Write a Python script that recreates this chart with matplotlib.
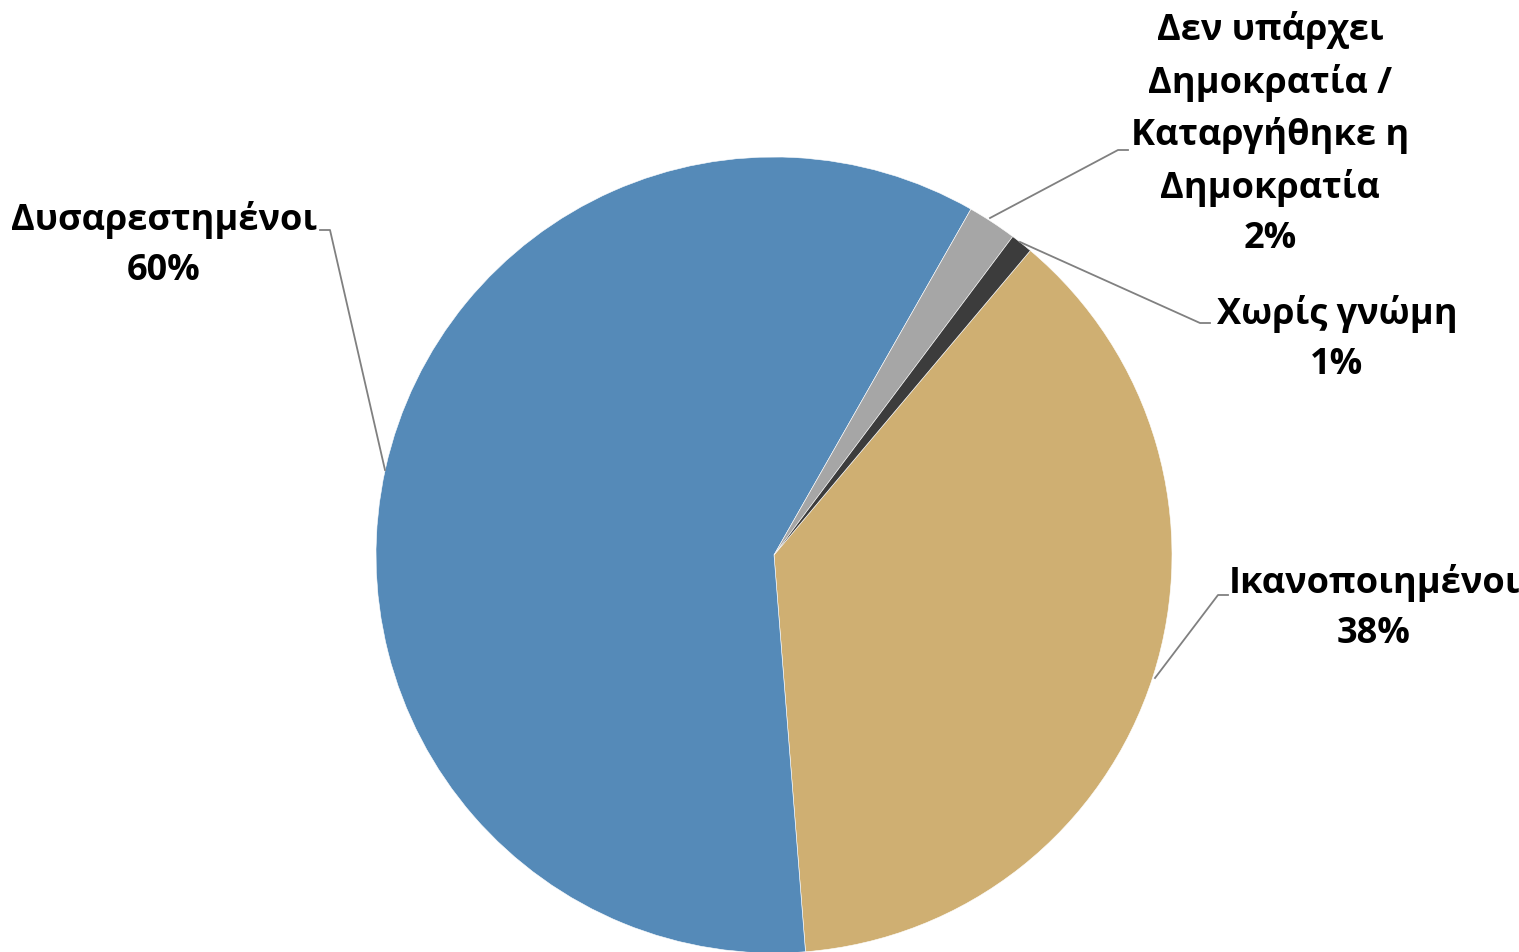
import matplotlib.pyplot as plt

# data (percent, clockwise from the tan slice)
labels = ['Ικανοποιημένοι', 'Δυσαρεστημένοι',
          'Δεν υπάρχει\nΔημοκρατία /\nΚαταργήθηκε η\nΔημοκρατία', 'Χωρίς γνώμη']
values = [37.6, 59.5, 2.0, 0.9]
shown = ['38%', '60%', '2%', '1%']
colors = ['#CFAF72', '#558AB8', '#A6A6A6', '#3C3C3C']

W, H = 1519, 952
fig = plt.figure(figsize=(W / 100, H / 100), dpi=100)
ax = fig.add_axes([0, 0, 1, 1])

cx, cy, r = 774, H - 555, 398
ax.pie(values, colors=colors, startangle=49.9, counterclock=False,
       center=(cx, cy), radius=r, frame=True,
       wedgeprops=dict(linewidth=0.4, edgecolor='white'))
ax.set_xlim(0, W)
ax.set_ylim(0, H)
ax.axis('off')

# label positions (pixel, top-down) and leader lines
label_pos = [(1374, 608), (164, 245), (1270, 134), (1337, 339)]
leaders = [
    [(1155, 678), (1218, 595), (1228, 595)],
    [(385, 470), (330, 230), (320, 230)],
    [(990, 218), (1118, 150), (1128, 150)],
    [(1020, 242), (1200, 323), (1210, 323)],
]

fs = 26
ls = 1.64 * 24 / fs
for lab, pct, (x, y), pts in zip(labels, shown, label_pos, leaders):
    ax.text(x, H - y, lab + '\n' + pct, ha='center', va='center',
            multialignment='center', fontsize=fs, fontweight='bold',
            family=['Open Sans', 'DejaVu Sans'], linespacing=ls)
    ax.plot([p[0] for p in pts], [H - p[1] for p in pts],
            color='#808080', lw=1.3)

fig.savefig('out.png', dpi=100)
